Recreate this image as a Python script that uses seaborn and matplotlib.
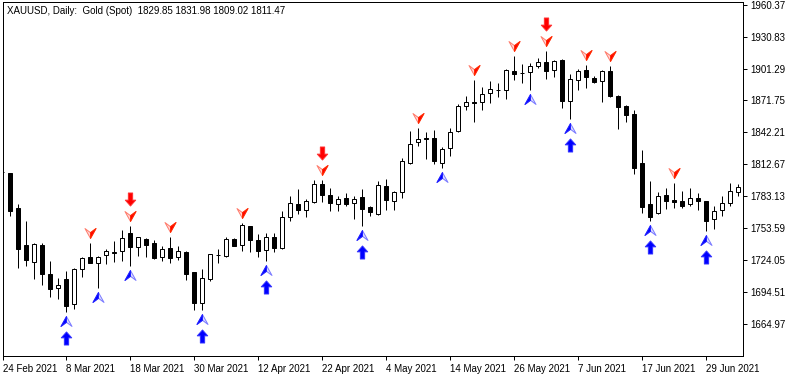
import numpy as np
import pandas as pd
import matplotlib
matplotlib.use("Agg")
import matplotlib.pyplot as plt
import seaborn as sns
from matplotlib.path import Path
from matplotlib.markers import MarkerStyle
from matplotlib.transforms import ScaledTranslation
from matplotlib import font_manager

# ---------------- data (daily OHLC, first bar = 24 Feb 2021, partly hidden) ----------------
opens = [1805.3, 1804.4, 1772.0, 1738.1, 1722.6, 1737.8, 1711.2, 1698.3, 1706.6, 1683.7,
         1715.6, 1726.9, 1721.1, 1728.5, 1731.0, 1732.2, 1748.9, 1735.9, 1743.6, 1739.6,
         1726.7, 1735.3, 1727.2, 1731.6, 1713.1, 1684.7, 1706.9, 1728.6, 1728.2, 1743.6,
         1737.8, 1755.4, 1742.7, 1733.2, 1745.2, 1735.6, 1763.7, 1776.0, 1770.7, 1778.1,
         1794.5, 1784.0, 1775.7, 1781.5, 1776.6, 1782.2, 1773.2, 1766.5, 1792.4, 1778.5,
         1786.8, 1814.2, 1833.1, 1837.0, 1837.0, 1814.2, 1827.5, 1843.2, 1866.4, 1870.3,
         1870.3, 1878.4, 1881.2, 1881.2, 1899.0, 1897.4, 1897.8, 1903.9, 1907.3, 1899.7,
         1908.9, 1871.5, 1890.4, 1899.7, 1892.5, 1889.8, 1899.3, 1876.2, 1866.4, 1859.2,
         1813.6, 1776.0, 1767.9, 1784.3, 1779.7, 1778.5, 1776.0, 1781.5, 1778.6, 1761.8,
         1770.2, 1776.6, 1786.8]
highs = [1806.0, 1804.9, 1776.0, 1760.5, 1739.6, 1739.6, 1723.3, 1707.2, 1714.0, 1717.1,
         1727.2, 1739.9, 1727.9, 1734.4, 1741.8, 1751.7, 1755.4, 1745.7, 1744.2, 1742.7,
         1737.1, 1745.7, 1737.1, 1732.8, 1713.4, 1715.6, 1729.7, 1734.1, 1745.2, 1744.5,
         1758.7, 1755.6, 1748.0, 1748.9, 1748.9, 1769.8, 1783.7, 1789.6, 1780.3, 1797.9,
         1798.2, 1790.8, 1783.4, 1785.9, 1783.7, 1789.6, 1773.9, 1797.5, 1799.1, 1788.0,
         1818.5, 1843.5, 1846.6, 1842.6, 1844.4, 1828.7, 1846.3, 1868.2, 1875.9, 1890.7,
         1883.9, 1889.8, 1888.2, 1900.6, 1912.9, 1905.8, 1906.1, 1910.8, 1917.5, 1908.9,
         1909.8, 1896.2, 1900.9, 1904.6, 1894.4, 1899.7, 1903.7, 1877.1, 1867.3, 1862.9,
         1825.7, 1797.3, 1787.1, 1790.5, 1795.7, 1788.0, 1790.8, 1785.9, 1778.8, 1774.1,
         1783.1, 1795.1, 1794.2]
lows = [1805.0, 1765.2, 1717.1, 1718.6, 1706.9, 1701.1, 1690.2, 1688.1, 1676.3, 1678.8,
        1708.2, 1721.5, 1698.6, 1720.8, 1722.3, 1723.5, 1718.9, 1727.9, 1727.2, 1724.8,
        1723.3, 1721.7, 1724.4, 1705.4, 1678.2, 1677.6, 1705.0, 1721.1, 1726.9, 1737.2,
        1732.8, 1731.3, 1727.2, 1723.5, 1731.6, 1734.4, 1760.0, 1766.7, 1763.7, 1776.6,
        1777.8, 1769.8, 1769.2, 1773.9, 1762.4, 1755.9, 1764.9, 1765.5, 1770.4, 1770.2,
        1781.8, 1812.7, 1829.9, 1817.9, 1813.0, 1809.0, 1820.1, 1843.0, 1863.2, 1852.1,
        1863.2, 1869.7, 1875.0, 1872.7, 1890.7, 1888.2, 1881.4, 1902.1, 1891.9, 1893.7,
        1865.1, 1854.9, 1881.7, 1883.6, 1887.6, 1870.1, 1874.7, 1845.1, 1851.6, 1803.7,
        1767.4, 1760.5, 1766.5, 1771.6, 1772.6, 1772.6, 1773.9, 1770.2, 1750.7, 1753.1,
        1765.2, 1773.9, 1783.7]
closes = [1805.6, 1769.8, 1734.1, 1724.4, 1738.7, 1711.5, 1697.6, 1701.1, 1681.9, 1715.9,
          1726.0, 1721.7, 1726.9, 1732.5, 1731.3, 1744.5, 1735.9, 1745.2, 1738.3, 1726.3,
          1734.4, 1726.3, 1732.5, 1711.5, 1684.7, 1707.5, 1729.5, 1728.8, 1743.6, 1737.4,
          1756.3, 1743.0, 1732.2, 1745.2, 1735.6, 1763.7, 1776.6, 1770.4, 1778.5, 1794.2,
          1784.0, 1776.9, 1780.9, 1776.3, 1780.9, 1771.4, 1768.9, 1793.3, 1779.4, 1787.4,
          1815.5, 1831.2, 1836.1, 1835.8, 1816.0, 1826.6, 1842.3, 1866.4, 1870.1, 1869.1,
          1877.5, 1882.4, 1881.4, 1899.7, 1896.7, 1897.2, 1903.4, 1907.1, 1899.3, 1908.6,
          1871.0, 1891.3, 1899.0, 1893.2, 1889.1, 1899.3, 1876.2, 1866.0, 1858.6, 1809.6,
          1772.9, 1764.2, 1783.4, 1778.5, 1778.1, 1774.4, 1781.5, 1779.0, 1760.3, 1769.2,
          1776.6, 1787.7, 1791.4]

# bar numbers counted from 25 Feb 2021 (= bar 0); 24 Feb is bar -1
tick_bars = [-1, 7, 15, 23, 31, 39, 47, 55, 63, 71, 79, 87]
tick_dates = ["24 Feb 2021", "8 Mar 2021", "18 Mar 2021", "30 Mar 2021", "12 Apr 2021",
              "22 Apr 2021", "4 May 2021", "14 May 2021", "26 May 2021", "7 Jun 2021",
              "17 Jun 2021", "29 Jun 2021"]
price_ticks = [1664.97, 1694.51, 1724.05, 1753.59, 1783.13, 1812.67, 1842.21,
               1871.75, 1901.29, 1930.83, 1960.37]

sell_small_bars = [10, 15, 20, 29, 39, 51, 58, 63, 67, 72, 75, 83]
sell_big_bars = [15, 39, 67]
buy_small_bars = [7, 11, 15, 24, 32, 44, 54, 65, 70, 80, 87]
buy_big_bars = [7, 24, 32, 44, 70, 80, 87]

header = "XAUUSD, Daily:  Gold (Spot)  1829.85 1831.98 1809.02 1811.47"

# ---------------- style ----------------
sns.set_theme(style="white")
avail = {f.name for f in font_manager.fontManager.ttflist}
font = next((f for f in ["Liberation Sans Narrow", "DejaVu Sans Condensed", "Liberation Sans"]
             if f in avail), "DejaVu Sans")
narrow = font in ("Liberation Sans Narrow",)
FS = 8 if narrow else 7
plt.rcParams["font.family"] = [font, "DejaVu Sans"]

W, H = 796, 377
fig = plt.figure(figsize=(W / 100, H / 100), dpi=100)
fig.patch.set_facecolor("white")
ax = fig.add_axes([2.5 / W, 21 / H, (743 - 2.5) / W, (356 - 2) / H])
ax.set_facecolor("white")

df = pd.DataFrame({"open": opens, "high": highs, "low": lows, "close": closes})
df["bar"] = np.arange(len(df)) - 1
df["bull"] = df["close"] >= df["open"]
df["bottom"] = df[["open", "close"]].min(axis=1)
df["height"] = (df["close"] - df["open"]).abs().clip(lower=0.05)

px = 0.72  # one pixel in points
ax.vlines(df["bar"], df["low"], df["high"], color="black", linewidth=px, zorder=2)
ax.bar(df["bar"], df["height"], bottom=df["bottom"], width=0.5,
       color=np.where(df["bull"], "white", "black"), edgecolor="black",
       linewidth=px, zorder=3)

# ---------------- signal markers ----------------
dart_dn = [(-1, 0.9), (0, -0.9), (1, 0.9), (0, 0.15), (-1, 0.9)]
dart_dn_right = [(0, 0.15), (0, -0.9), (1, 0.9), (0, 0.15)]
dart_dn_left = [(-1, 0.9), (0, -0.9), (0, 0.15), (-1, 0.9)]


def flip(pts):
    return [(x, -y) for x, y in pts]


def mk(pts):
    return Path(pts, closed=True)


arrow_up = [(0, 1), (0.8, 0.1), (0.33, 0.1), (0.33, -1), (-0.33, -1), (-0.33, 0.1),
            (-0.8, 0.1), (0, 1)]


def signals(bars, ref, dy_px, marker, size_px, face, edge, lw=0.7):
    d = df.set_index("bar").loc[bars]
    sns.scatterplot(x=list(d.index), y=list(d[ref]), marker=MarkerStyle(mk(marker)),
                    s=(size_px * px) ** 2, color=face, edgecolor=edge, linewidth=lw,
                    ax=ax, zorder=5, legend=False)
    coll = ax.collections[-1]
    coll.set_offset_transform(ax.transData + ScaledTranslation(0, dy_px / 100, fig.dpi_scale_trans))
    coll.set_clip_on(False)


# sell: red darts above highs (light left half, solid right half)
signals(sell_small_bars, "high", 10, dart_dn, 11, "#ffd6d6", "#ff7a6a")
signals(sell_small_bars, "high", 10, dart_dn_right, 11, "#ff0000", "#ff2a00")
signals(sell_big_bars, "high", 27, flip(arrow_up), 13, "#ff0000", "#ff3030")
# buy: blue darts below lows (solid left half, light right half)
signals(buy_small_bars, "low", -9, flip(dart_dn), 11, "#dcdcff", "#7a7aff")
signals(buy_small_bars, "low", -9, flip(dart_dn_left), 11, "#0000ff", "#2020ff")
signals(buy_big_bars, "low", -26, arrow_up, 13, "#0000ff", "#3030ff")

# ---------------- axes ----------------
ax.set_xlim((2.5 - 10.3) / 8, (743 - 10.3) / 8)
ax.set_ylim(1664.97 - 32 * 0.9251, 1664.97 + 322 * 0.9251)
for s in ax.spines.values():
    s.set_visible(True)
    s.set_color("black")
    s.set_linewidth(px)

ax.yaxis.tick_right()
ax.set_yticks(price_ticks)
ax.set_yticklabels([f"{v:.2f}" for v in price_ticks])
ax.set_xticks(tick_bars)
ax.set_xticklabels(tick_dates, ha="left")
ax.tick_params(axis="both", which="both", direction="out", length=3, width=px,
               color="black", labelsize=FS, labelcolor="black")
ax.tick_params(axis="x", bottom=True, pad=2.5)
ax.tick_params(axis="y", right=True, left=False, pad=2)
for lab in ax.get_xticklabels():
    lab.set_horizontalalignment("left")
ax.grid(False)
ax.set_xlabel("")
ax.set_ylabel("")

fig.text(7 / W, 1 - 10.5 / H, header, ha="left", va="center", fontsize=FS, color="black")

fig.savefig("out.png", dpi=100, facecolor="white")
